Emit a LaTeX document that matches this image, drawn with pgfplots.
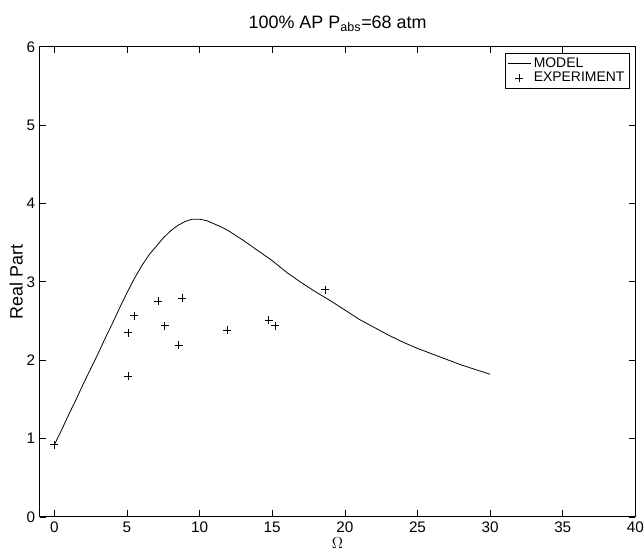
\documentclass[border=0pt]{standalone}
\usepackage{fontspec}
\setmainfont{Liberation Sans}
\usepackage{pgfplots}
\pgfplotsset{compat=1.18}

\begin{document}
\begin{tikzpicture}
\useasboundingbox (-30pt,-25.5pt) rectangle (455pt,389.25pt);
\begin{axis}[
    scale only axis,
    width=448.5pt, height=354pt,
    xmin=-1, xmax=40, ymin=0, ymax=6,
    xtick={0,5,...,40}, ytick={0,1,...,6},
    tick align=inside, major tick length=5pt,
    tick style={black, line width=0.5pt},
    axis line style={line width=0.7pt},
    ticklabel style={font=\fontsize{11.5}{13}\selectfont},
    /pgf/number format/assume math mode=true,
    xlabel={$\Omega$},
    xlabel style={font=\fontsize{12}{14}\selectfont, at={(axis description cs:0.5,0)}, anchor=center, yshift=-20pt},
    ylabel={Real Part}, ylabel style={font=\fontsize{13.5}{15}\selectfont, yshift=-4pt},
    title={100\% AP P\textsubscript{abs}=68 atm},
    title style={font=\fontsize{13.5}{15}\selectfont, yshift=2pt},
    legend style={at={(1,1)}, anchor=north east, xshift=-4.5pt, yshift=-4.5pt,
        font=\fontsize{10.5}{11}\selectfont, draw=black, line width=0.5pt,
        inner sep=1.5pt, row sep=-2pt},
    legend cell align=left,
]
\addplot[black, line width=0.6pt] coordinates {
(0,0.92)(0.5,1.11)(1,1.31)(1.5,1.50)(2,1.70)(2.5,1.89)(3,2.08)(3.5,2.28)(4,2.47)
(4.5,2.67)(5,2.86)(5.5,3.04)(6,3.2)(6.5,3.34)(7,3.45)(7.5,3.56)(8,3.65)(8.5,3.72)
(9,3.77)(9.5,3.8)(10,3.8)(10.5,3.78)(11,3.74)(11.5,3.7)(12,3.65)(13,3.53)(14,3.40)
(15,3.27)(16,3.12)(17,2.99)(18,2.87)(19,2.76)(20,2.64)(21,2.52)(22,2.42)(23,2.32)
(24,2.23)(25,2.15)(26,2.08)(27,2.01)(28,1.94)(29,1.88)(30,1.82)
};
\addlegendentry{MODEL}
\addplot[only marks, mark=+, mark size=3pt, black, line width=0.5pt] coordinates {
(0,0.92)(5.1,2.35)(5.1,1.80)(5.5,2.57)(7.15,2.75)(7.6,2.44)(8.8,2.79)(8.55,2.19)
(11.9,2.38)(14.75,2.51)(15.2,2.44)(18.65,2.90)
};
\addlegendentry{EXPERIMENT}
\end{axis}
\end{tikzpicture}
\end{document}
